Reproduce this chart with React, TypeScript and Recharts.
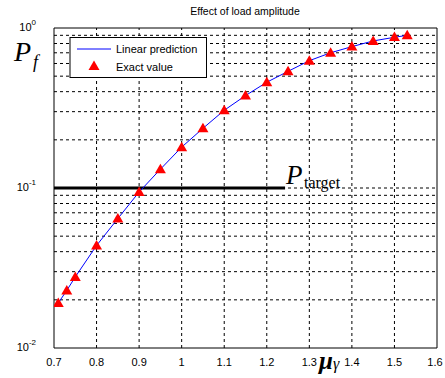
import React from 'react';
import {
  ComposedChart, Line, Scatter, XAxis, YAxis, ReferenceLine,
} from 'recharts';

const muValues = [0.71, 0.73, 0.75, 0.8, 0.85, 0.9, 0.95, 1.0, 1.05, 1.1, 1.15, 1.2, 1.25, 1.3, 1.35, 1.4, 1.45, 1.5, 1.53];
const linearPrediction = [0.0191, 0.0229, 0.0278, 0.0437, 0.0644, 0.0944, 0.131, 0.18, 0.236, 0.306, 0.378, 0.458, 0.536, 0.625, 0.7, 0.765, 0.83, 0.875, 0.9];
const exactValue = [0.0191, 0.0229, 0.0278, 0.0437, 0.0644, 0.0944, 0.131, 0.18, 0.236, 0.306, 0.378, 0.458, 0.536, 0.625, 0.7, 0.765, 0.83, 0.88, 0.9];
const xTicks = [0.7, 0.8, 0.9, 1, 1.1, 1.2, 1.3, 1.4, 1.5, 1.6];
const yTicks = [0.01, 0.1, 1];
const yTickExponents = ['-2', '-1', '0'];
const minorY = [0.02, 0.03, 0.04, 0.05, 0.06, 0.07, 0.08, 0.09, 0.1, 0.2, 0.3, 0.4, 0.5, 0.6, 0.7, 0.8, 0.9];
const pTarget = 0.1;
const pTargetEnd = 1.243;

const data = muValues.map((m, i) => ({ mu: m, pred: linearPrediction[i], exact: exactValue[i] }));

const sans = 'Liberation Sans, Arial, sans-serif';
const serif = 'Liberation Serif, Times New Roman, serif';

const YTick = (props: any) => {
  const { x, y, payload } = props;
  const idx = yTicks.indexOf(payload.value);
  return (
    <text x={x - 10} y={y + 3} textAnchor="end" fontFamily={sans} fontSize={11} fill="#000">
      10
      <tspan dx={0} dy={-6} fontSize={8}>{yTickExponents[idx]}</tspan>
    </text>
  );
};

const XTick = (props: any) => {
  const { x, y, payload } = props;
  return (
    <text x={x} y={y + 10} textAnchor="middle" fontFamily={sans} fontSize={11} fill="#000">
      {String(payload.value)}
    </text>
  );
};

const Triangle = (props: any) => {
  const { cx, cy } = props;
  if (cx == null || cy == null) return null;
  return <polygon points={`${cx},${cy - 5.5} ${cx - 5.5},${cy + 4} ${cx + 5.5},${cy + 4}`} fill="#ff0000" />;
};

const LegendBox = () => (
  <svg style={{ position: 'absolute', left: 0, top: 0 }} width={445} height={378} pointerEvents="none">
    <rect x={70} y={37.5} width={136.5} height={40} fill="#fff" stroke="#000" strokeWidth={1} />
    <line x1={77} x2={111} y1={49} y2={49} stroke="#0000ff" strokeWidth={1} />
    <text x={116} y={53} fontFamily={sans} fontSize={11} fill="#000">Linear prediction</text>
    <polygon points="94,60.5 88.5,70 99.5,70" fill="#ff0000" />
    <text x={116} y={71} fontFamily={sans} fontSize={11} fill="#000">Exact value</text>
  </svg>
);

const Labels = () => (
  <svg style={{ position: 'absolute', left: 0, top: 0 }} width={445} height={378} pointerEvents="none">
    <text x={245} y={15} textAnchor="middle" fontFamily={sans} fontSize={10.5} fill="#000">Effect of load amplitude</text>
    <text x={14} y={61} fontFamily={serif} fontStyle="italic" fontSize={28} fill="#000">P</text>
    <text x={33} y={68} fontFamily={serif} fontStyle="italic" fontSize={18} fill="#000">f</text>
    <text x={286} y={184} fontFamily={serif} fontStyle="italic" fontSize={27} fill="#000">P</text>
    <text x={304} y={188} fontFamily={serif} fontSize={16} fill="#000">target</text>
    <text x={319} y={369} fontFamily={serif} fontStyle="italic" fontWeight="bold" fontSize={25} fill="#000">μ</text>
    <text x={333} y={369} fontFamily={serif} fontStyle="italic" fontSize={16} fill="#000">γ</text>
  </svg>
);

export default function App() {
  return (
    <div style={{ position: 'absolute', left: 0, top: 0, width: 445, height: 378, background: '#fff' }}>
      <ComposedChart width={445} height={378} data={data} margin={{ top: 28, right: 8, left: 0, bottom: 0 }}>
        <XAxis
          dataKey="mu"
          type="number"
          domain={[0.7, 1.6]}
          ticks={xTicks}
          allowDataOverflow
          height={30}
          tick={<XTick />}
          tickLine={false}
          axisLine={{ stroke: '#000', strokeWidth: 1 }}
        />
        <YAxis
          type="number"
          scale="log"
          domain={[0.01, 1]}
          ticks={yTicks}
          allowDataOverflow
          width={54}
          tick={<YTick />}
          tickLine={false}
          axisLine={{ stroke: '#000', strokeWidth: 1 }}
        />
        {xTicks.slice(1, -1).map((v) => (
          <ReferenceLine key={'x' + v} x={v} stroke="#000" strokeWidth={1} strokeDasharray="3 3" ifOverflow="hidden" />
        ))}
        {minorY.map((v) => (
          <ReferenceLine key={'y' + v} y={v} stroke="#000" strokeWidth={1} strokeDasharray="3 3" ifOverflow="hidden" />
        ))}
        <ReferenceLine x={1.6} stroke="#000" strokeWidth={1} />
        <ReferenceLine y={1} stroke="#000" strokeWidth={1} />
        <ReferenceLine
          segment={[{ x: 0.7, y: pTarget }, { x: pTargetEnd, y: pTarget }]}
          stroke="#000"
          strokeWidth={3}
        />
        <Line
          dataKey="pred"
          type="linear"
          stroke="#0000ff"
          strokeWidth={1}
          dot={false}
          isAnimationActive={false}
        />
        <Scatter dataKey="exact" shape={<Triangle />} isAnimationActive={false} />
      </ComposedChart>
      <LegendBox />
      <Labels />
    </div>
  );
}
